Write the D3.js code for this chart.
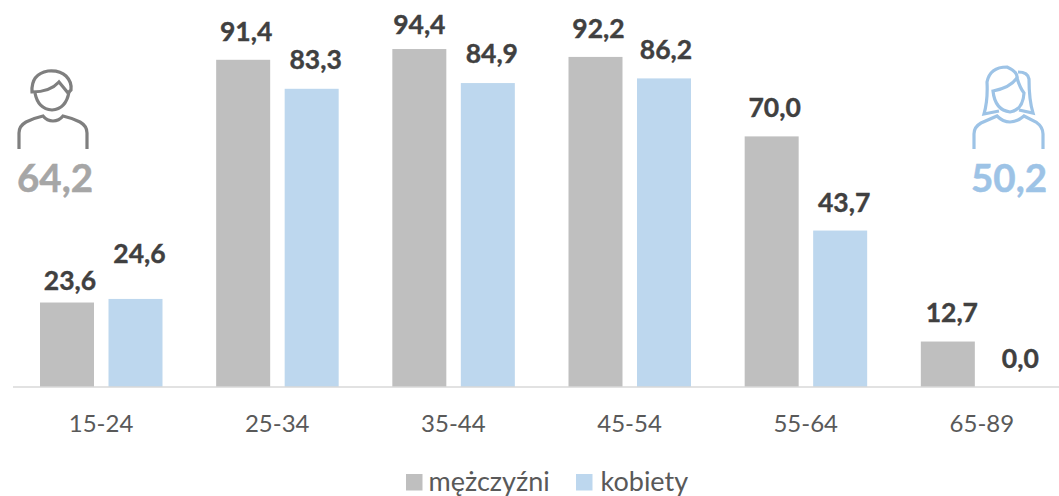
<!DOCTYPE html>
<html>
<head>
<meta charset="utf-8">
<script src="https://cdn.jsdelivr.net/npm/d3@7"></script>
<style>
    html, body { margin: 0; padding: 0; background: #fff; overflow: hidden; }
    text { font-family: Lato, "Open Sans", sans-serif; }
</style>
</head>
<body>
<div id="chart"></div>
<script>
const categories = ['15-24', '25-34', '35-44', '45-54', '55-64', '65-89'];
const seriesNames = ['mężczyźni', 'kobiety'];
const men = [23.6, 91.4, 94.4, 92.2, 70.0, 12.7];
const women = [24.6, 83.3, 84.9, 86.2, 43.7, 0.0];
const averages = [64.2, 50.2];

const colors = ['#bfbfbf', '#bdd7ee'];
const fmt = v => v.toFixed(1).replace('.', ',');

// labels were moved by hand in the original chart
const labelNudge = [
    {dx: [3, 3, 0, 3, 3, 4], dy: [7, 1, 5, 1, 1, 0]},
    {dx: [4, 4, 4, 2, 4, 4], dy: [-16, 0, 0, 1, 1, 1]}
];

const width = 1059, height = 496;
const svg = d3.select('#chart').append('svg')
    .attr('width', width)
    .attr('height', height);

// scales
const x = d3.scaleBand().domain(categories).range([13, 1070]).paddingInner(0).paddingOuter(0);
const xSeries = d3.scaleBand().domain(seriesNames).range([27, 149.5]).paddingInner(14.5 / 68.5).paddingOuter(0);
const y = d3.scaleLinear().domain([0, 100]).range([387, 29]);

// bars
seriesNames.forEach((name, s) => {
    const values = s === 0 ? men : women;
    const g = svg.append('g').attr('class', 'series');
    g.selectAll('rect').data(values).enter().append('rect')
        .attr('x', (d, i) => x(categories[i]) + xSeries(name))
        .attr('y', d => y(d))
        .attr('width', xSeries.bandwidth())
        .attr('height', d => y(0) - y(d))
        .attr('fill', colors[s]);
    g.selectAll('text').data(values).enter().append('text')
        .attr('x', (d, i) => x(categories[i]) + xSeries(name) + xSeries.bandwidth() / 2 + labelNudge[s].dx[i])
        .attr('y', (d, i) => y(d) - 20 + labelNudge[s].dy[i])
        .attr('text-anchor', 'middle')
        .attr('font-size', 26.5)
        .attr('font-weight', 700)
        .attr('fill', '#404040')
        .attr('stroke', '#404040')
        .attr('stroke-width', 0.4)
        .text(fmt);
});

// x axis
svg.append('line')
    .attr('x1', 13).attr('x2', 1059)
    .attr('y1', 387).attr('y2', 387)
    .attr('stroke', '#d9d9d9')
    .attr('stroke-width', 1.5);
svg.append('g').selectAll('text').data(categories).enter().append('text')
    .attr('x', d => x(d) + x.bandwidth() / 2)
    .attr('y', 432)
    .attr('text-anchor', 'middle')
    .attr('font-size', 24)
    .attr('fill', '#595959')
    .text(d => d);

// legend
const legendX = [406, 576];
const legendTextX = [428.5, 600.5];
seriesNames.forEach((name, s) => {
    svg.append('rect')
        .attr('x', legendX[s]).attr('y', 474)
        .attr('width', 16.5).attr('height', 16.5)
        .attr('fill', colors[s]);
    svg.append('text')
        .attr('x', legendTextX[s]).attr('y', 491)
        .attr('font-size', 27)
        .attr('fill', '#595959')
        .text(name);
});

// man icon
const man = svg.append('g')
    .attr('fill', 'none')
    .attr('stroke', '#7f7f7f')
    .attr('stroke-width', 3.2);
man.append('path').attr('d', 'M19 149 V133 Q19 126 26 122 Q34 118 43 116 Q47 121 53 121 Q59 121 63 116 Q72 118 80 122 Q87 126 87 133 V149');
man.append('path').attr('d', 'M35 93 Q38 109 52 110 Q66 109 69 92');
man.append('path').attr('d', 'M32 92 Q31 74 48 71 Q60 70 66 76 Q72 82 71 90 L68 93 Q64 88 59 82 Q50 92 32 92 Z');

// woman icon
const woman = svg.append('g')
    .attr('fill', 'none')
    .attr('stroke', '#9dc3e6')
    .attr('stroke-width', 3.2);
woman.append('path').attr('d', 'M974 149 V134 Q974 127 981 123 L997 116 Q1003 122 1010 122 Q1017 122 1024 116 L1036 122 Q1043 127 1043 134 V149');
woman.append('path').attr('d', 'M993 91 Q995 110 1010 112 Q1023 110 1024 93 Q1020 88 1017 78 Q1010 88 993 91 Z');
woman.append('path').attr('d', 'M1017 78 Q1018 72 1007 67 Q990 67 987 82 Q988 100 984 114 L999 111 M1018 72 Q1028 72 1029 79 Q1029 100 1033 113 L1019 110');

// averages
svg.append('text').attr('x', 55).attr('y', 192)
    .attr('text-anchor', 'middle').attr('font-size', 38.5).attr('font-weight', 700)
    .attr('fill', '#a6a6a6').attr('stroke', '#a6a6a6').attr('stroke-width', 0.5).text(fmt(averages[0]));
svg.append('text').attr('x', 1009).attr('y', 192)
    .attr('text-anchor', 'middle').attr('font-size', 38.5).attr('font-weight', 700)
    .attr('fill', '#9dc3e6').attr('stroke', '#9dc3e6').attr('stroke-width', 0.5).text(fmt(averages[1]));
</script>
</body>
</html>
